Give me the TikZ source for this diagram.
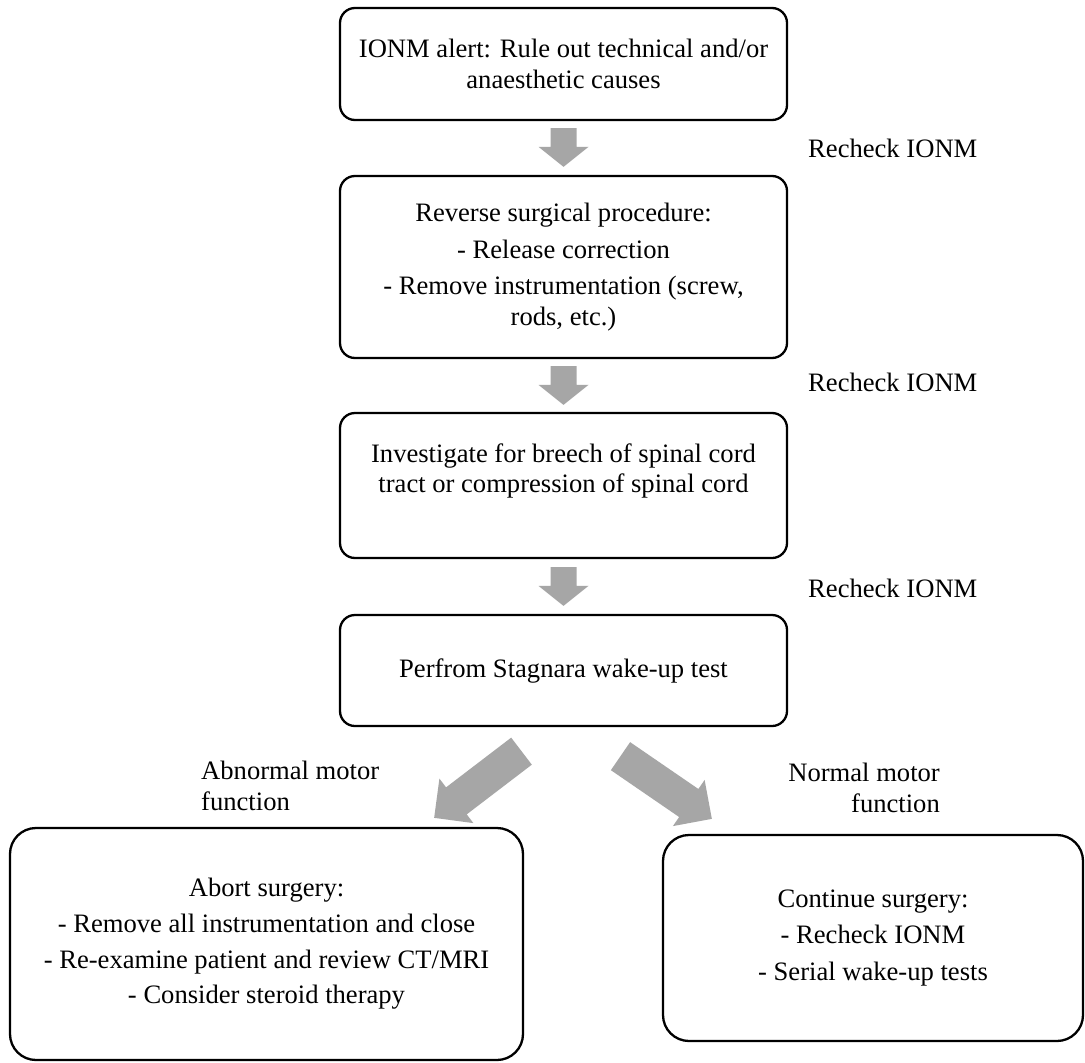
\documentclass[tikz,border=0pt]{standalone}
\usepackage{fontspec}
\setmainfont{Liberation Serif}
\usetikzlibrary{calc}
\definecolor{arrowgray}{HTML}{A6A6A6}
\tikzset{
  every node/.style={font=\fontsize{26.6pt}{30.6pt}\selectfont},
  box/.style={draw=black, line width=2.3pt, rounded corners=15pt, align=center, inner sep=0pt, minimum width=447pt},
  bigbox/.style={draw=black, line width=2.3pt, rounded corners=26pt, align=center, inner sep=0pt},
  lbl/.style={inner sep=0pt},
  blockarrow/.style n args={3}{fill=arrowgray, draw=none, to path={
    ($(\tikztostart)!#1!90:(\tikztotarget)$)
    -- ($($(\tikztotarget)!#3!(\tikztostart)$)!#1!-90:(\tikztostart)$)
    -- ($($(\tikztotarget)!#3!(\tikztostart)$)!#2!-90:(\tikztostart)$)
    -- (\tikztotarget)
    -- ($($(\tikztotarget)!#3!(\tikztostart)$)!#2!90:(\tikztostart)$)
    -- ($($(\tikztotarget)!#3!(\tikztostart)$)!#1!90:(\tikztostart)$)
    -- ($(\tikztostart)!#1!-90:(\tikztotarget)$)
    -- cycle}},
}
\begin{document}
\begin{tikzpicture}[x=1pt, y=-1pt]
\fill[white] (0,0) rectangle (1085,1063);
\useasboundingbox (0,0) rectangle (1085,1063);

\node[box, minimum height=112pt] (b1) at (563.5,64)
  {IONM alert: Rule out technical and/or\\anaesthetic causes};
\node[box, minimum height=182pt] (b2) at (563.5,267)
  {Reverse surgical procedure:\\[6pt]- Release correction\\[6pt]- Remove instrumentation (screw,\\rods, etc.)};
\node[box, minimum height=145pt] (b3) at (563.5,485.5)
  {Investigate for breech of spinal cord\\tract or compression of spinal cord\\[4pt]\mbox{}};
\node[box, minimum height=111pt] (b4) at (563.5,670.5)
  {Perfrom Stagnara wake-up test};
\node[bigbox, minimum width=513pt, minimum height=232pt] (b5) at (266.5,944)
  {Abort surgery:\\[5pt]- Remove all instrumentation and close\\[5pt]- Re-examine patient and review CT/MRI\\[5pt]- Consider steroid therapy};
\node[bigbox, minimum width=420pt, minimum height=206pt] (b6) at (873,938)
  {Continue surgery:\\[6pt]- Recheck IONM\\[6pt]- Serial wake-up tests};

\coordinate (a1s) at ($(b1.south)+(0,7)$);
\coordinate (a1e) at ($(b2.north)+(0,-8)$);
\coordinate (a2s) at ($(b2.south)+(0,7)$);
\coordinate (a2e) at ($(b3.north)+(0,-7)$);
\coordinate (a3s) at ($(b3.south)+(0,8)$);
\coordinate (a3e) at ($(b4.north)+(0,-8)$);
\coordinate (dls) at ($(b4.south)+(-42,24)$);
\coordinate (dle) at ($(b5.north east)+(-90,-9)$);
\coordinate (drs) at ($(b4.south)+(57,29)$);
\coordinate (dre) at ($(b6.north west)+(50,-15)$);

\path[blockarrow={13pt}{25pt}{20pt}] (a1s) to (a1e);
\path[blockarrow={13pt}{25pt}{20pt}] (a2s) to (a2e);
\path[blockarrow={13pt}{25pt}{20pt}] (a3s) to (a3e);
\path[blockarrow={17pt}{28pt}{28pt}] (dls) to (dle);
\path[blockarrow={17pt}{28pt}{28pt}] (drs) to (dre);

\node[lbl, anchor=west] (r1) at (808,148) {Recheck IONM};
\node[lbl, anchor=west] (r2) at (808,382) {Recheck IONM};
\node[lbl, anchor=west] (r3) at (808,588) {Recheck IONM};
\node[lbl, anchor=west, align=left] (abn) at (201,786) {Abnormal motor\\function};
\node[lbl, anchor=east, align=right] (nrm) at (940,788) {Normal motor\\function};
\end{tikzpicture}
\end{document}
